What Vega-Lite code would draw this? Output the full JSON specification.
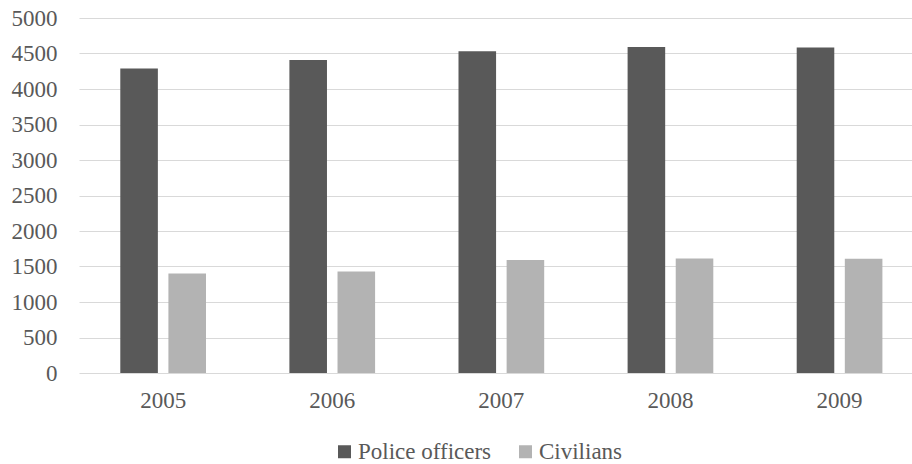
{
  "$schema": "https://vega.github.io/schema/vega-lite/v6.json",
  "width": 833,
  "height": 355,
  "autosize": "none",
  "padding": {"left": 79, "top": 18, "right": 0, "bottom": 91},
  "background": "white",
  "config": {
    "view": {"stroke": null},
    "font": "'Times New Roman', 'Liberation Serif', serif",
    "legend": {
      "labelFont": "'Times New Roman', 'Liberation Serif', serif",
      "labelFontSize": 23,
      "labelColor": "#595959",
      "labelLimit": 400
    }
  },
  "data": {
    "values": [
      {"year": "2005", "staff": "Police officers", "count": 4290},
      {"year": "2005", "staff": "Civilians", "count": 1403},
      {"year": "2006", "staff": "Police officers", "count": 4408},
      {"year": "2006", "staff": "Civilians", "count": 1431},
      {"year": "2007", "staff": "Police officers", "count": 4530},
      {"year": "2007", "staff": "Civilians", "count": 1592},
      {"year": "2008", "staff": "Police officers", "count": 4593},
      {"year": "2008", "staff": "Civilians", "count": 1614},
      {"year": "2009", "staff": "Police officers", "count": 4586},
      {"year": "2009", "staff": "Civilians", "count": 1610}
    ]
  },
  "mark": {"type": "bar"},
  "encoding": {
    "x": {
      "field": "year",
      "type": "nominal",
      "scale": {"paddingInner": 0.4932, "paddingOuter": 0.2096, "align": 0.5825},
      "axis": {
        "title": null,
        "labelAngle": 0,
        "ticks": false,
        "domain": false,
        "labelFont": "'Times New Roman', 'Liberation Serif', serif",
        "labelFontSize": 23,
        "labelColor": "#595959",
        "labelPadding": 16
      }
    },
    "xOffset": {
      "field": "staff",
      "type": "nominal",
      "sort": ["Police officers", "Civilians"],
      "scale": {"paddingInner": 0.219, "paddingOuter": 0}
    },
    "y": {
      "field": "count",
      "type": "quantitative",
      "scale": {"domain": [0, 5000], "nice": false},
      "axis": {
        "title": null,
        "format": "d",
        "values": [0, 500, 1000, 1500, 2000, 2500, 3000, 3500, 4000, 4500, 5000],
        "domain": false,
        "ticks": false,
        "tickSize": 0,
        "grid": true,
        "gridColor": "#d9d9d9",
        "gridWidth": 1.2,
        "labelFont": "'Times New Roman', 'Liberation Serif', serif",
        "labelFontSize": 23,
        "labelColor": "#595959",
        "labelPadding": 22
      }
    },
    "color": {
      "field": "staff",
      "type": "nominal",
      "sort": ["Police officers", "Civilians"],
      "scale": {"range": ["#595959", "#b3b3b3"]},
      "legend": {
        "title": null,
        "orient": "none",
        "legendX": 254,
        "legendY": 422,
        "direction": "horizontal",
        "padding": 0,
        "symbolType": "square",
        "symbolSize": 169,
        "symbolStrokeWidth": 0,
        "labelFont": "'Times New Roman', 'Liberation Serif', serif",
        "labelFontSize": 23,
        "labelColor": "#595959",
        "labelLimit": 400,
        "labelOffset": 2,
        "columnPadding": 22
      }
    }
  }
}
